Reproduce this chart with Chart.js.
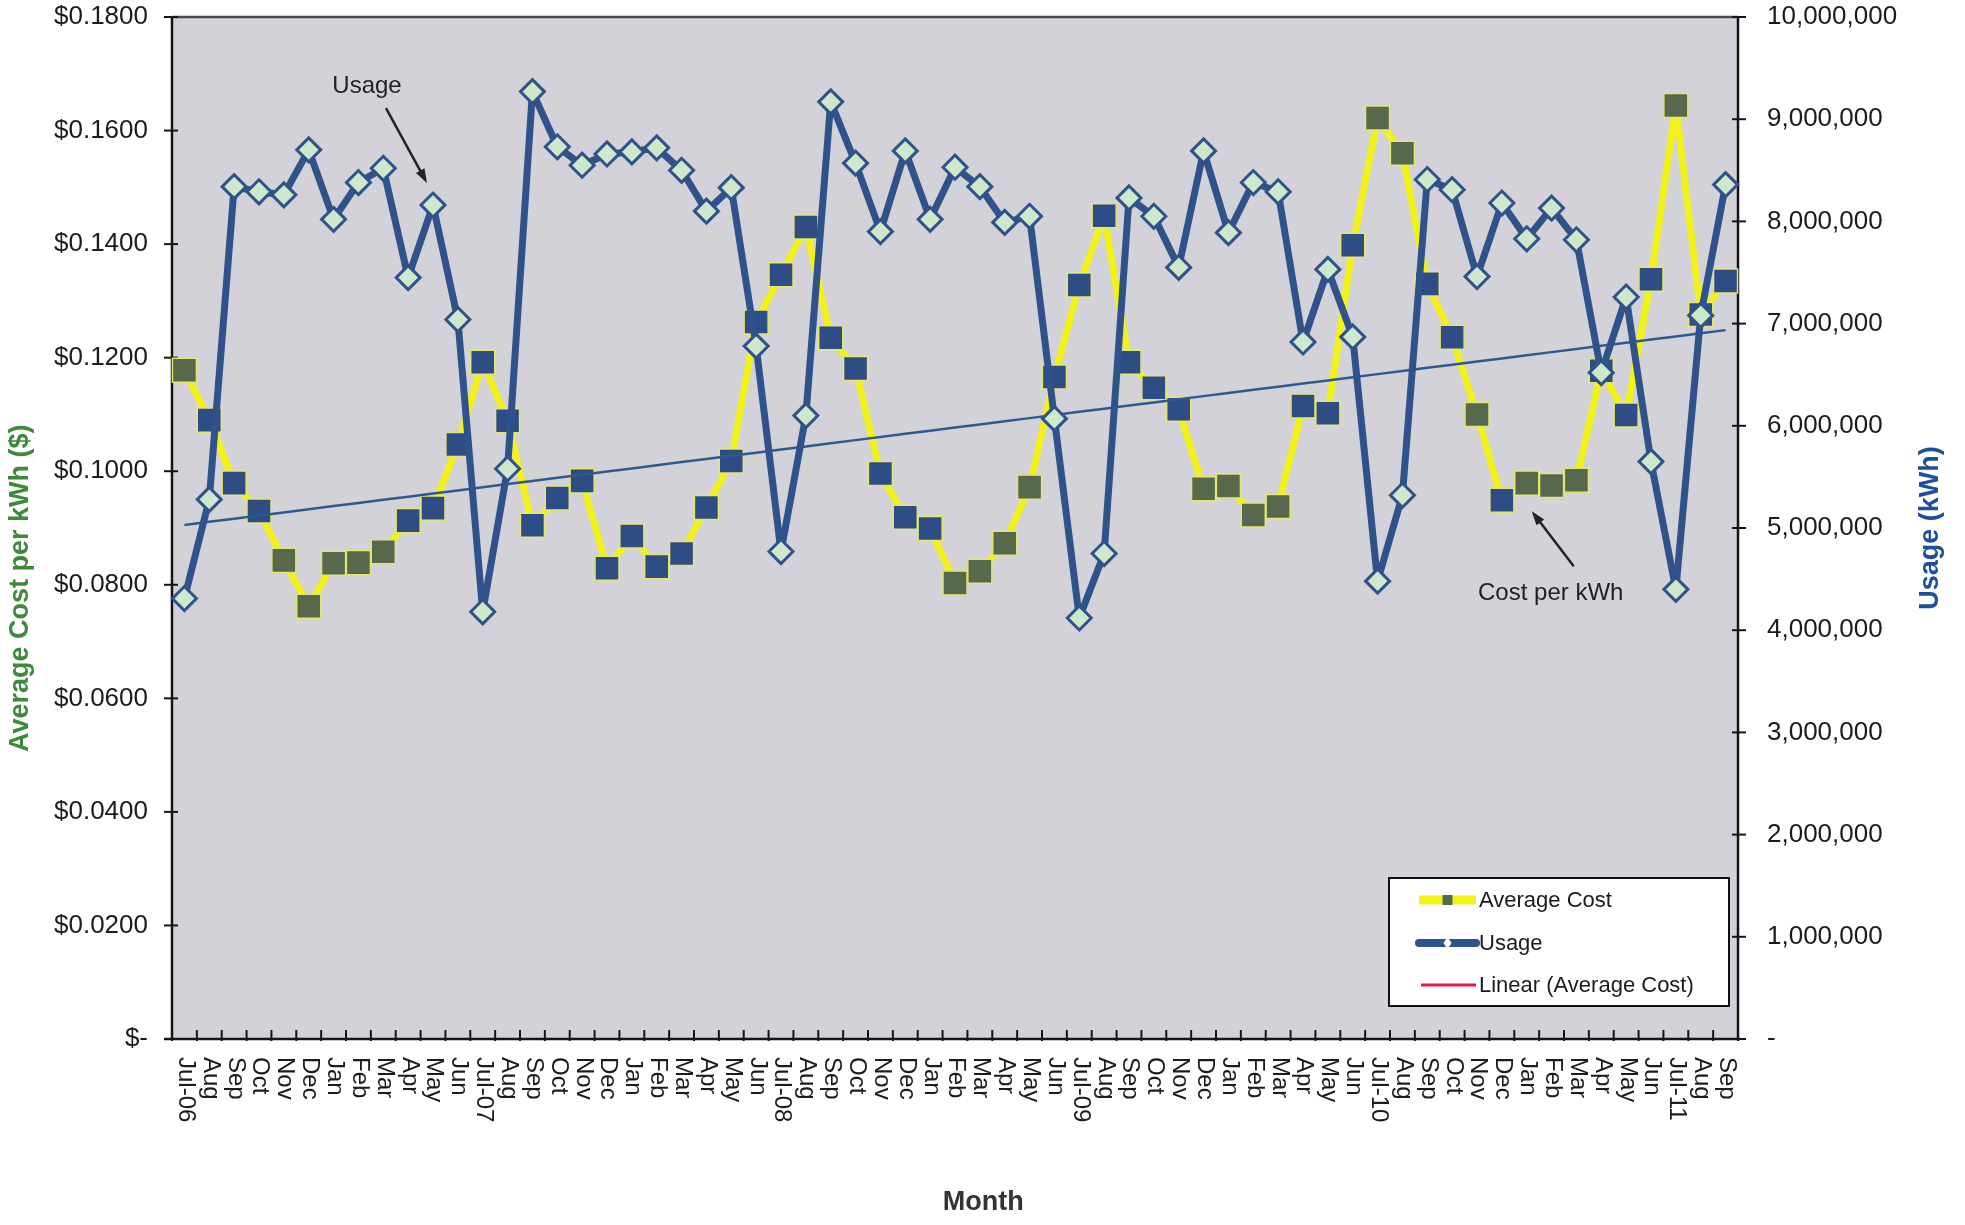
<!DOCTYPE html>
<html>
<head>
<meta charset="utf-8">
<title>Average Cost and Usage by Month</title>
<script src="https://cdn.jsdelivr.net/npm/chart.js@4.4.0/dist/chart.umd.min.js"></script>
<style>
  html, body { margin: 0; padding: 0; background: #fff; }
</style>
</head>
<body>
<canvas id="my-chart" width="1965" height="1225"></canvas>
<script>
'use strict';

// >>> chart data <<<
let months = [
  'Jul-06', 'Aug', 'Sep', 'Oct', 'Nov', 'Dec', 'Jan', 'Feb', 'Mar', 'Apr', 'May', 'Jun',
  'Jul-07', 'Aug', 'Sep', 'Oct', 'Nov', 'Dec', 'Jan', 'Feb', 'Mar', 'Apr', 'May', 'Jun',
  'Jul-08', 'Aug', 'Sep', 'Oct', 'Nov', 'Dec', 'Jan', 'Feb', 'Mar', 'Apr', 'May', 'Jun',
  'Jul-09', 'Aug', 'Sep', 'Oct', 'Nov', 'Dec', 'Jan', 'Feb', 'Mar', 'Apr', 'May', 'Jun',
  'Jul-10', 'Aug', 'Sep', 'Oct', 'Nov', 'Dec', 'Jan', 'Feb', 'Mar', 'Apr', 'May', 'Jun',
  'Jul-11', 'Aug', 'Sep'
];

// $ per kWh
let avgCost = [
  0.1178, 0.1090, 0.0979, 0.0930, 0.0843, 0.0762, 0.0838, 0.0839, 0.0858, 0.0913, 0.0935, 0.1047,
  0.1192, 0.1089, 0.0905, 0.0953, 0.0983, 0.0829, 0.0886, 0.0832, 0.0855, 0.0936, 0.1018, 0.1263,
  0.1346, 0.1430, 0.1235, 0.1181, 0.0996, 0.0919, 0.0899, 0.0803, 0.0824, 0.0873, 0.0972, 0.1166,
  0.1328, 0.1450, 0.1192, 0.1147, 0.1109, 0.0969, 0.0974, 0.0923, 0.0938, 0.1115, 0.1102, 0.1398,
  0.1622, 0.1560, 0.1330, 0.1236, 0.1100, 0.0949, 0.0979, 0.0975, 0.0984, 0.1177, 0.1099, 0.1338,
  0.1644, 0.1276, 0.1335
];

// kWh
let usageKwh = [
  4310000, 5280000, 8340000, 8290000, 8260000, 8700000, 8020000, 8380000, 8520000, 7450000, 8160000, 7040000,
  4180000, 5580000, 9270000, 8730000, 8550000, 8660000, 8680000, 8720000, 8500000, 8100000, 8330000, 6780000,
  4770000, 6100000, 9170000, 8570000, 7900000, 8690000, 8020000, 8530000, 8340000, 7990000, 8050000, 6070000,
  4120000, 4750000, 8230000, 8050000, 7550000, 8690000, 7890000, 8380000, 8290000, 6820000, 7530000, 6870000,
  4480000, 5320000, 8410000, 8310000, 7460000, 8180000, 7830000, 8130000, 7820000, 6520000, 7260000, 5650000,
  4400000, 7080000, 8360000
];

let costTicks = [0, 0.02, 0.04, 0.06, 0.08, 0.10, 0.12, 0.14, 0.16, 0.18];
let usageTicks = [0, 1000000, 2000000, 3000000, 4000000, 5000000, 6000000, 7000000, 8000000, 9000000, 10000000];

// markers that show up dark green in the scan (the rest are dark blue)
let greenMarkers = [0, 4, 5, 6, 7, 8, 31, 32, 33, 34, 41, 42, 43, 44, 48, 49, 52, 54, 55, 56, 60];

const FONT = "'Liberation Sans', Arial, sans-serif";
const TEXT = '#1b1b1b';


// least squares line through the cost values (Excel "Linear" trendline)
function linearFit(values) {
  let n = values.length;
  let sx = 0, sy = 0, sxy = 0, sxx = 0;
  for (let i = 0; i < n; i++) {
    sx += i;
    sy += values[i];
    sxy += i * values[i];
    sxx += i * i;
  }
  let slope = (n * sxy - sx * sy) / (n * sxx - sx * sx);
  let intercept = (sy - slope * sx) / n;
  return values.map((v, i) => intercept + slope * i);
}

function strokeLine(ctx, x1, y1, x2, y2) {
  ctx.beginPath();
  ctx.moveTo(x1, y1);
  ctx.lineTo(x2, y2);
  ctx.stroke();
}

function drawArrow(ctx, x1, y1, x2, y2) {
  let ang = Math.atan2(y2 - y1, x2 - x1);
  let head = 15;
  ctx.lineWidth = 2.5;
  strokeLine(ctx, x1, y1, x2 - Math.cos(ang) * head * 0.7, y2 - Math.sin(ang) * head * 0.7);
  ctx.beginPath();
  ctx.moveTo(x2, y2);
  ctx.lineTo(x2 - head * Math.cos(ang - 0.33), y2 - head * Math.sin(ang - 0.33));
  ctx.lineTo(x2 - head * Math.cos(ang + 0.33), y2 - head * Math.sin(ang + 0.33));
  ctx.closePath();
  ctx.fill();
}

// y axes: fixed width, and no extra room above/below the plot for the end labels
function fixedWidth(w) {
  return scale => {
    scale.width = w;
    scale.paddingTop = 0;
    scale.paddingBottom = 0;
  };
}


// >>> plugin: plot frame, tick marks, rotated month labels, titles, notes, legend <<<
let excelLook = {
  id: 'excelLook',

  beforeDatasetsDraw(chart) {
    let { ctx, chartArea: a, scales } = chart;
    ctx.save();
    ctx.fillStyle = '#d3d2d8';
    ctx.fillRect(a.left, a.top, a.right - a.left, a.bottom - a.top);

    ctx.lineCap = 'butt';
    ctx.strokeStyle = '#4a4a4a';
    ctx.lineWidth = 2.5;
    strokeLine(ctx, a.left, a.top, a.right, a.top);
    ctx.strokeStyle = '#151515';
    strokeLine(ctx, a.left, a.top - 1, a.left, a.bottom + 1);
    strokeLine(ctx, a.right, a.top - 1, a.right, a.bottom + 1);
    strokeLine(ctx, a.left - 8, a.bottom, a.right + 2, a.bottom);

    // y tick marks cross the axes
    ctx.lineWidth = 2;
    costTicks.forEach(v => {
      let y = scales.yCost.getPixelForValue(v);
      strokeLine(ctx, a.left - 8, y, a.left + 6, y);
    });
    usageTicks.forEach(v => {
      let y = scales.yUsage.getPixelForValue(v);
      strokeLine(ctx, a.right - 6, y, a.right + 8, y);
    });
    // x tick marks sit between the months, pointing up into the plot
    for (let i = 0; i <= months.length; i++) {
      let x = scales.x.getPixelForValue(i - 0.5);
      strokeLine(ctx, x, a.bottom + 2, x, a.bottom - 9);
    }
    ctx.restore();
  },

  afterDraw(chart) {
    let { ctx, chartArea: a, scales } = chart;
    ctx.save();

    // month labels, turned clockwise so they read downward
    ctx.fillStyle = TEXT;
    ctx.font = '24px ' + FONT;
    ctx.textAlign = 'left';
    ctx.textBaseline = 'middle';
    months.forEach((m, i) => {
      let x = scales.x.getPixelForValue(i);
      ctx.save();
      ctx.translate(x + 1, a.bottom + 18);
      ctx.rotate(Math.PI / 2);
      ctx.fillText(m, 0, 0);
      ctx.restore();
    });

    // axis titles
    ctx.textAlign = 'center';
    ctx.font = 'bold 27px ' + FONT;
    ctx.fillStyle = '#3d8a3a';
    ctx.save();
    ctx.translate(21, a.top + (a.bottom - a.top) * 0.559);
    ctx.rotate(-Math.PI / 2);
    ctx.fillText('Average Cost per kWh ($)', 0, 0);
    ctx.restore();

    ctx.fillStyle = '#1d4f9c';
    ctx.save();
    ctx.translate(chart.width - 34, (a.top + a.bottom) / 2);
    ctx.rotate(-Math.PI / 2);
    ctx.fillText('Usage (kWh)', 0, 0);
    ctx.restore();

    ctx.fillStyle = '#333';
    ctx.fillText('Month', a.left + (a.right - a.left) * 0.518, chart.height - 22);

    // call-outs, tied to the points they point at
    ctx.fillStyle = '#222';
    ctx.strokeStyle = '#222';
    ctx.font = '24px ' + FONT;
    let ux = scales.x.getPixelForValue(10);
    let uy = scales.yUsage.getPixelForValue(usageKwh[10]);
    ctx.fillText('Usage', ux - 66, uy - 119);
    drawArrow(ctx, ux - 47, uy - 97, ux - 6, uy - 22);

    let cx = scales.x.getPixelForValue(54);
    let cy = scales.yCost.getPixelForValue(avgCost[54]);
    ctx.fillText('Cost per kWh', cx + 24, cy + 110);
    drawArrow(ctx, cx + 47, cy + 83, cx + 5, cy + 28);

    // legend box in the lower right of the plot
    let bx = a.right - 349, by = a.bottom - 161, bw = 340, bh = 128;
    ctx.fillStyle = '#fff';
    ctx.fillRect(bx, by, bw, bh);
    ctx.strokeStyle = '#111';
    ctx.lineWidth = 2;
    ctx.strokeRect(bx, by, bw, bh);

    let lx1 = bx + 30, lx2 = bx + 87, mid = (lx1 + lx2) / 2;
    let rows = [by + 22, by + 65, by + 107];

    ctx.lineWidth = 9;
    ctx.strokeStyle = '#f2f21a';
    strokeLine(ctx, lx1, rows[0], lx2, rows[0]);
    ctx.fillStyle = '#56694c';
    ctx.fillRect(mid - 5, rows[0] - 5, 10, 10);

    ctx.lineWidth = 8;
    ctx.lineCap = 'round';
    ctx.strokeStyle = '#30528a';
    strokeLine(ctx, lx1, rows[1], lx2, rows[1]);
    ctx.lineCap = 'butt';
    ctx.fillStyle = '#fff';
    ctx.beginPath();
    ctx.moveTo(mid, rows[1] - 6);
    ctx.lineTo(mid + 4, rows[1]);
    ctx.lineTo(mid, rows[1] + 6);
    ctx.lineTo(mid - 4, rows[1]);
    ctx.closePath();
    ctx.fill();

    ctx.lineWidth = 3;
    ctx.strokeStyle = '#e8174a';
    strokeLine(ctx, lx1 + 2, rows[2], lx2, rows[2]);

    ctx.fillStyle = TEXT;
    ctx.font = '22px ' + FONT;
    ctx.textAlign = 'left';
    ctx.textBaseline = 'middle';
    ctx.fillText('Average Cost', lx2 + 3, rows[0] + 1);
    ctx.fillText('Usage', lx2 + 3, rows[1] + 1);
    ctx.fillText('Linear (Average Cost)', lx2 + 3, rows[2] + 1);

    ctx.restore();
  }
};


// >>> build the chart <<<
let canvasElement = document.getElementById('my-chart').getContext('2d');

let myChart = new Chart(canvasElement, {
  type: 'line',
  data: {
    labels: months,
    datasets: [
      {
        label: 'Usage',
        data: usageKwh,
        yAxisID: 'yUsage',
        order: 0,
        borderColor: '#30528a',
        borderWidth: 7,
        borderJoinStyle: 'round',
        pointStyle: 'rectRot',
        pointRadius: 12,
        pointBackgroundColor: '#cde8cb',
        pointBorderColor: '#30528a',
        pointBorderWidth: 3,
        tension: 0
      },
      {
        label: 'Linear (Average Cost)',
        data: linearFit(avgCost),
        yAxisID: 'yCost',
        order: 1,
        borderColor: '#2e5a8e',
        borderWidth: 2.5,
        pointRadius: 0,
        tension: 0
      },
      {
        label: 'Average Cost',
        data: avgCost,
        yAxisID: 'yCost',
        order: 2,
        borderColor: '#f2f21a',
        borderWidth: 7,
        borderJoinStyle: 'round',
        pointStyle: 'rect',
        pointRadius: 17,
        pointBackgroundColor: ctx => greenMarkers.includes(ctx.dataIndex) ? '#56694c' : '#2f4d85',
        pointBorderColor: '#e4e672',
        pointBorderWidth: 1.5,
        tension: 0
      }
    ]
  },
  options: {
    responsive: false,
    animation: false,
    events: [],
    layout: { autoPadding: false, padding: { top: 17, left: 0, right: 0, bottom: 0 } },
    plugins: {
      legend: { display: false },
      tooltip: { enabled: false }
    },
    scales: {
      x: {
        type: 'category',
        offset: true,
        grid: { display: false, drawTicks: false },
        border: { display: false },
        ticks: { display: false },
        afterFit(scale) { scale.height = 186; }
      },
      yCost: {
        position: 'left',
        min: 0,
        max: 0.18,
        grid: { display: false, drawTicks: false },
        border: { display: false },
        afterBuildTicks(scale) { scale.ticks = costTicks.map(v => ({ value: v })); },
        ticks: {
          autoSkip: false,
          padding: 24,
          color: TEXT,
          font: { family: FONT, size: 26 },
          callback: v => v === 0 ? '$-' : '$' + v.toFixed(4)
        },
        afterFit: fixedWidth(172)
      },
      yUsage: {
        position: 'right',
        min: 0,
        max: 10000000,
        grid: { display: false, drawTicks: false },
        border: { display: false },
        afterBuildTicks(scale) { scale.ticks = usageTicks.map(v => ({ value: v })); },
        ticks: {
          autoSkip: false,
          padding: 29,
          color: TEXT,
          font: { family: FONT, size: 26 },
          callback: v => v === 0 ? '-' : v.toLocaleString('en-US')
        },
        afterFit: fixedWidth(227)
      }
    }
  },
  plugins: [excelLook]
});
</script>
</body>
</html>
